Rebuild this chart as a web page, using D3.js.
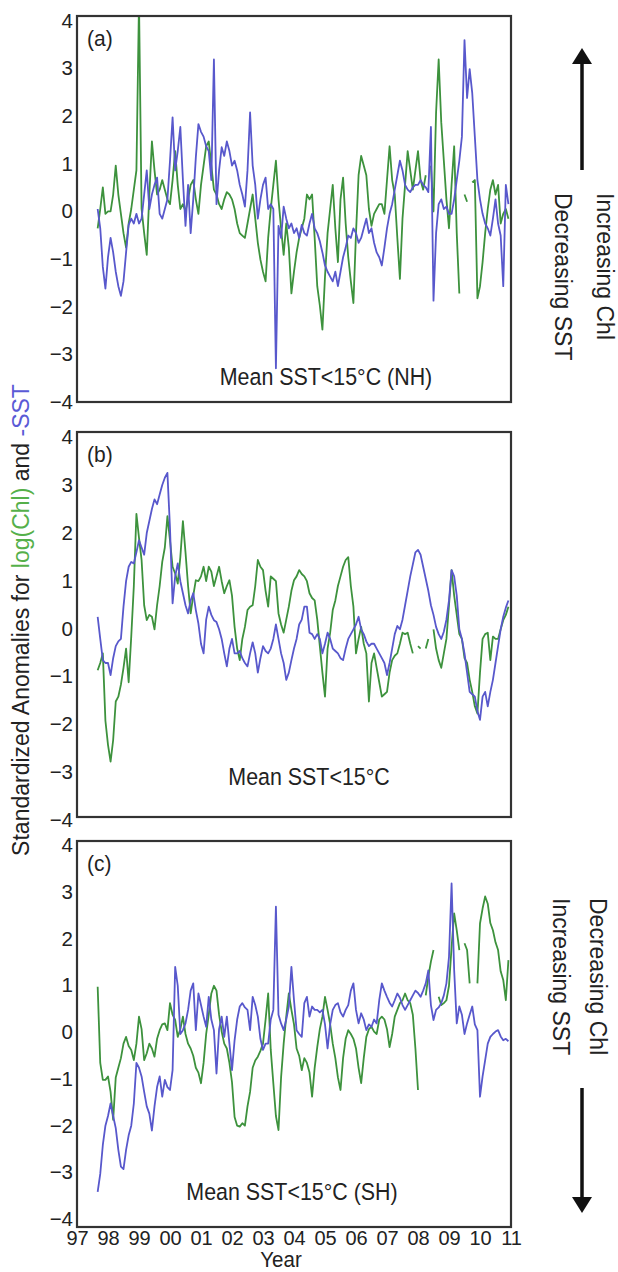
<!DOCTYPE html>
<html><head><meta charset="utf-8">
<script src="https://cdn.jsdelivr.net/npm/d3@7"></script>
<style>
body{margin:0;background:#fff}
text{font-family:"Liberation Sans",Arial,Helvetica,sans-serif;fill:#222}
</style>
</head><body><svg id="chart" width="618" height="1272"></svg>
<script>
// ---------------- DATA ----------------
const startYear = 1997, startMonth = 9; // first value: Sept 1997, monthly
const yearTicks = [1997,1998,1999,2000,2001,2002,2003,2004,2005,2006,2007,2008,2009,2010,2011];
const yearTickLabels = ["97","98","99","00","01","02","03","04","05","06","07","08","09","10","11"];
const yTicks = [-4,-3,-2,-1,0,1,2,3,4];
const panelLabels = ["(a)","(b)","(c)"];
const regionLabels = ["Mean SST<15°C (NH)","Mean SST<15°C","Mean SST<15°C (SH)"];

// -SST standardized anomalies (blue)
const sstA = [0.0,-0.4,-1.2,-1.65,-1.0,-0.6,-0.9,-1.3,-1.6,-1.8,
 -1.5,-0.9,-0.33,-0.2,-0.3,-0.1,-0.3,-0.2,0.3,0.8,
 0.0,0.3,0.5,0.65,-0.1,-0.2,0.0,0.2,1.0,1.9,
 0.8,1.2,1.7,0.6,-0.35,0.5,-0.5,0.2,1.07,1.76,
 1.6,1.5,1.3,1.2,0.6,3.1,0.1,0.8,1.28,1.1,
 1.4,1.2,0.9,1.0,0.8,0.5,0.3,0.05,0.8,2.0,
 0.9,0.5,-0.2,0.2,0.5,0.65,0.0,0.1,0.0,-3.3,
 -0.35,-0.6,0.05,-0.2,-0.4,-0.3,-0.5,-0.4,-0.6,-0.33,
 -0.5,-0.55,-0.3,-0.1,-0.4,-0.5,-0.67,-0.9,-1.17,-1.3,
 -1.4,-1.5,-1.3,-1.6,-1.3,-1.0,-0.8,-0.55,-0.6,-0.4,
 -0.5,-0.7,-0.6,-0.4,-0.2,-0.5,-0.4,-0.7,-0.9,-1.0,
 -1.17,-0.8,-0.4,-0.1,0.1,0.4,0.7,1.0,0.8,0.5,
 0.4,0.35,0.45,0.5,0.5,0.6,0.5,0.45,0.35,1.7,
 -1.9,-0.5,0.1,0.2,0.0,0.05,-0.1,-0.1,0.2,0.6,
 1.0,1.5,3.5,2.3,2.9,2.4,1.5,0.6,0.2,-0.1,
 -0.3,-0.4,-0.55,-0.2,0.2,-0.3,-0.55,-1.6,0.5,0.1];
const sstB = [0.16,-0.3,-0.74,-0.8,-0.8,-1.05,-0.7,-0.45,-0.35,-0.3,
 0.37,0.9,1.2,1.3,1.27,1.5,1.75,1.6,1.45,1.9,
 2.15,2.4,2.6,2.5,2.7,2.9,3.05,3.15,2.0,0.44,
 1.0,1.27,0.9,0.65,0.4,0.23,0.5,0.65,0.3,0.02,
 -0.4,-0.6,0.1,0.37,0.2,0.09,0.05,-0.1,-0.3,-0.6,
 -0.87,-0.5,-0.3,-0.6,-0.6,-0.55,-0.7,-0.8,-0.87,-0.6,
 -0.37,-0.6,-1.0,-0.7,-0.45,-0.55,-0.6,-0.5,-0.3,0.0,
 -0.3,-0.6,-0.8,-1.15,-1.0,-0.74,-0.5,-0.3,0.0,0.1,
 0.37,0.37,-0.17,-0.2,-0.3,-0.2,-0.3,-0.6,-0.4,-0.17,
 -0.3,-0.5,-0.55,-0.6,-0.7,-0.74,-0.5,-0.3,-0.2,-0.1,
 0.0,0.16,-0.1,-0.2,-0.35,-0.45,-0.4,-0.4,-0.5,-0.6,
 -0.7,-0.8,-1.05,-0.8,-0.5,-0.2,-0.03,-0.1,0.1,0.4,
 0.7,1.0,1.25,1.5,1.55,1.45,1.2,0.95,0.7,0.4,
 0.2,-0.05,-0.2,-0.3,-0.15,0.1,0.5,1.13,1.0,0.6,
 -0.1,-0.3,-0.6,-1.0,-1.4,-1.45,-1.5,-1.8,-1.98,-1.5,
 -1.4,-1.7,-1.4,-1.15,-0.8,-0.45,-0.1,0.16,0.35,0.5];
const sstC = [-3.27,-2.9,-2.3,-1.9,-1.7,-1.44,-1.7,-1.95,-2.4,-2.75,
 -2.8,-2.4,-2.1,-1.9,-1.44,-0.6,-0.7,-0.88,-1.2,-1.5,
 -1.65,-2.0,-1.5,-1.1,-0.88,-1.3,-0.95,-1.1,-1.16,-0.75,
 1.39,1.0,0.0,0.08,0.22,0.5,0.9,1.05,0.08,0.84,
 0.6,0.36,0.15,0.77,0.3,0.08,-0.82,0.1,0.36,-0.06,
 0.36,-0.2,-0.75,-0.13,0.3,0.57,0.64,0.55,0.5,0.08,
 0.77,0.6,0.36,-0.1,-0.33,-0.2,-0.2,0.3,0.5,2.64,
 0.4,0.22,0.08,0.3,0.57,1.39,0.7,0.08,0.0,-0.06,
 0.64,0.77,0.36,0.57,0.5,0.5,0.45,0.5,0.2,-0.3,
 0.2,0.5,0.6,0.64,0.45,0.36,0.5,0.6,0.9,1.05,
 0.5,0.22,0.43,0.3,0.08,0.2,0.15,0.3,0.22,0.7,
 1.05,0.9,0.77,0.65,0.57,0.7,0.84,0.75,0.6,0.5,
 0.6,0.7,0.8,0.9,0.85,0.77,0.9,1.05,1.32,0.6,
 0.29,0.5,0.55,0.64,0.8,1.05,1.6,3.12,1.32,0.22,
 0.57,0.4,0.0,0.22,0.4,0.57,0.2,0.08,-1.3,-0.88,
 -0.54,-0.2,-0.06,0.0,0.05,0.08,-0.05,-0.13,-0.1,-0.15];

// log(Chl) standardized anomalies (green); null = missing month
const chlA = [-0.4,0.0,0.45,-0.1,-0.05,-0.05,0.3,0.9,0.3,-0.1,
 -0.5,-0.8,-0.3,0.0,0.4,0.8,4.3,0.0,-0.5,-0.95,
 0.3,1.4,0.8,0.3,0.4,0.6,0.4,0.2,0.1,0.6,
 1.2,0.5,0.0,0.1,-0.05,0.2,0.5,0.6,0.2,-0.1,
 0.5,0.9,1.3,1.4,0.9,0.4,0.3,0.1,0.0,0.2,
 0.35,0.3,0.2,0.0,-0.3,-0.5,-0.55,-0.6,-0.3,0.0,
 0.3,-0.2,-0.7,-1.05,-1.3,-1.5,-0.6,0.0,0.5,1.0,
 0.2,-0.4,-0.95,-0.3,-0.8,-1.75,-1.3,-0.9,-0.6,-0.4,
 -0.2,0.3,0.2,0.3,-0.6,-1.6,-2.0,-2.5,-1.4,-0.5,
 0.0,0.5,-0.4,-1.1,0.2,0.65,-0.3,-1.0,-1.5,-1.95,
 -0.5,0.7,1.1,0.9,0.7,0.0,-0.35,-0.1,0.0,0.1,
 0.1,-0.1,0.6,1.3,0.6,0.3,-0.6,-1.45,-0.2,0.5,
 1.2,0.8,0.4,0.8,1.2,0.6,0.4,0.7,null,0.9,
 -0.05,2.0,3.1,1.8,1.0,0.2,-0.4,0.5,1.3,-0.5,
 -1.75,null,0.3,0.15,null,0.55,0.6,-1.85,-1.6,-1.1,
 -0.5,0.0,0.4,0.6,0.3,0.5,-0.3,-0.1,0.0,-0.2];
const chlB = [-0.95,-0.8,-0.6,-2.0,-2.5,-2.85,-2.4,-1.6,-1.5,-1.25,
 -0.9,-0.5,-1.2,-0.25,0.8,2.3,1.8,1.34,0.4,0.09,
 0.2,0.16,-0.1,0.4,0.8,1.3,1.6,2.25,1.75,1.2,
 1.06,0.85,1.4,2.15,1.5,0.8,0.23,0.6,0.92,0.9,
 1.0,1.2,0.9,1.2,1.1,0.8,1.0,1.2,0.9,0.65,
 0.8,0.92,0.6,-0.05,-0.5,-0.74,-0.3,-0.05,0.3,0.37,
 0.4,0.8,1.34,1.2,1.13,0.7,0.37,1.0,0.95,0.9,
 0.23,0.0,-0.17,0.1,0.37,0.7,0.92,1.0,1.13,1.05,
 1.0,0.9,0.65,0.55,0.5,0.1,-0.45,-1.0,-1.5,-0.5,
 -0.17,0.3,0.5,0.8,1.0,1.2,1.34,1.4,0.8,0.37,
 -0.6,-0.3,-0.05,-0.4,-0.6,-1.6,-0.8,-0.6,-0.9,-1.2,
 -1.5,-1.45,-1.4,-1.0,-0.74,-0.65,-0.6,-0.4,-0.17,-0.2,
 -0.17,-0.4,-0.6,null,-0.45,-0.5,null,-0.5,-0.3,null,
 -0.1,-0.5,-0.74,-0.9,-0.6,-0.3,0.4,1.13,0.6,0.2,
 -0.2,-0.3,-0.7,-0.8,-1.15,-1.4,-1.7,-1.85,-1.0,-0.3,
 -0.2,-0.17,-0.74,-0.25,-0.3,-0.3,-0.1,0.09,0.2,0.37];
const chlC = [0.98,-0.6,-0.95,-0.95,-0.88,-1.2,-1.78,-0.9,-0.7,-0.5,
 -0.2,-0.06,-0.25,-0.33,-0.54,-0.2,0.36,0.1,-0.54,-0.4,
 -0.2,-0.3,-0.47,-0.1,0.08,0.2,0.22,0.08,0.64,0.4,
 0.29,-0.06,0.1,0.36,0.0,-0.2,-0.3,-0.45,-0.7,-0.8,
 -1.02,-0.6,0.0,0.4,0.84,1.0,0.9,0.4,0.05,-0.2,
 -0.3,-0.6,-1.0,-1.72,-1.9,-1.92,-1.85,-1.9,-1.5,-1.2,
 -0.7,-0.55,-0.47,-0.35,-0.2,0.3,0.84,-0.33,-1.02,-1.7,
 -1.99,-0.9,-0.2,0.36,0.84,0.5,0.2,-0.3,-0.45,-0.75,
 -0.5,-0.6,-0.8,-1.3,-0.7,-0.27,0.1,0.36,0.77,0.5,
 0.2,-0.2,-0.5,-0.9,-1.16,-0.5,-0.1,0.08,0.0,-0.1,
 -0.3,-0.7,-1.02,-0.5,-0.06,0.1,0.15,0.05,0.0,0.3,
 0.36,0.3,0.1,-0.27,0.0,0.36,0.5,0.64,0.7,0.84,
 0.7,0.64,0.4,-0.3,-1.16,null,null,0.8,1.19,1.5,
 1.74,null,0.77,0.6,0.64,0.7,1.0,1.8,2.5,2.15,
 1.74,null,1.88,1.74,1.05,null,null,1.05,2.29,2.6,
 2.85,2.7,2.3,2.15,1.9,1.74,1.3,1.12,0.7,1.53];

// ---------------- LAYOUT / STYLE ----------------
const blue = "#5858cc", green = "#3d923d";
const left = 77, right = 511;
const panels = [
  {top: 16, bottom: 402, labelRange: [402, 20.5], sst: sstA, chl: chlA, label: panelLabels[0], region: regionLabels[0], regionX: 326, regionDy: -17},
  {top: 432, bottom: 817, labelRange: [820, 437], sst: sstB, chl: chlB, label: panelLabels[1], region: regionLabels[1], regionX: 309, regionDy: -32},
  {top: 841, bottom: 1227, labelRange: [1219, 845], sst: sstC, chl: chlC, label: panelLabels[2], region: regionLabels[2], regionX: 292, regionDy: -27}
];
const fontStack = '"Liberation Sans",Arial,sans-serif';
const vStretch = 1.08; // source figure is slightly stretched vertically

const svg = d3.select("#chart");
const x = d3.scaleLinear().domain([1997, 2011]).range([left, right]);
const monthToYear = i => startYear + (startMonth - 1 + i) / 12;

function hText(parent, tx, ty, str, size, anchor) {
  return parent.append("text")
    .attr("transform", `translate(${tx},${ty}) scale(1,${vStretch})`)
    .attr("text-anchor", anchor || "start")
    .attr("font-size", size).text(str);
}

panels.forEach((p, k) => {
  const y = d3.scaleLinear().domain([-4, 4]).range([p.bottom, p.top]);
  const yLab = d3.scaleLinear().domain([-4, 4]).range(p.labelRange);
  const g = svg.append("g");
  const clipId = "clip" + k;
  g.append("clipPath").attr("id", clipId).append("rect")
    .attr("x", left).attr("y", p.top).attr("width", right - left).attr("height", p.bottom - p.top);

  const line = d3.line()
    .defined(d => d != null)
    .x((d, i) => x(monthToYear(i)))
    .y(d => y(d));

  const lines = g.append("g").attr("clip-path", `url(#${clipId})`);
  lines.append("path").datum(p.chl).attr("d", line)
    .attr("fill", "none").attr("stroke", green).attr("stroke-width", 1.8).attr("stroke-linejoin", "round");
  lines.append("path").datum(p.sst).attr("d", line)
    .attr("fill", "none").attr("stroke", blue).attr("stroke-width", 1.8).attr("stroke-linejoin", "round");

  // frame
  g.append("rect").attr("x", left).attr("y", p.top).attr("width", right - left).attr("height", p.bottom - p.top)
    .attr("fill", "none").attr("stroke", "#333").attr("stroke-width", 2.2);

  // y axis labels
  const ax = g.append("g").attr("transform", `translate(${left},0)`)
    .call(d3.axisLeft(yLab).tickValues(yTicks).tickSize(0).tickPadding(4).tickFormat(d3.format("d")));
  ax.select(".domain").remove();
  ax.selectAll("text").attr("font-size", 20.5).attr("fill", "#222").style("font-family", fontStack);

  hText(g, 87, p.top + 30, p.label, 21);
  hText(g, p.regionX, p.bottom + p.regionDy, p.region, 21.4, "middle");

  if (k === 2) {
    const xa = g.append("g").attr("transform", `translate(0,${p.bottom})`)
      .call(d3.axisBottom(x).tickValues(yearTicks).tickSize(0).tickPadding(4)
        .tickFormat((d, i) => yearTickLabels[i]));
    xa.select(".domain").remove();
    xa.selectAll("text").attr("font-size", 20).attr("fill", "#222").style("font-family", fontStack);
  }
});

// x title
hText(svg, 281, 1267, "Year", 20.5, "middle");

// y title (multi-colour)
const yt = svg.append("text").attr("transform", "translate(29,620) rotate(-90)")
  .attr("text-anchor", "middle").attr("font-size", 23);
yt.append("tspan").text("Standardized Anomalies for ");
yt.append("tspan").style("fill", "#55b04a").text("log(Chl)");
yt.append("tspan").text(" and ");
yt.append("tspan").style("fill", "#5a5ad6").text("-SST");

// right-side annotations
const sideTexts = [
  {x: 597, y: 193, t: "Increasing Chl"},
  {x: 555, y: 193, t: "Decreasing SST"},
  {x: 590, y: 898, t: "Decreasing Chl"},
  {x: 553, y: 898, t: "Increasing SST"}
];
sideTexts.forEach(s => {
  svg.append("text").attr("transform", `translate(${s.x},${s.y}) rotate(90)`)
    .attr("font-size", 23).text(s.t);
});

// arrows
const arrows = [
  {x: 582, shaft: [170, 64], tip: 48},
  {x: 582, shaft: [1088, 1197], tip: 1213}
];
arrows.forEach(a => {
  svg.append("line").attr("x1", a.x).attr("x2", a.x).attr("y1", a.shaft[0]).attr("y2", a.shaft[1])
    .attr("stroke", "#111").attr("stroke-width", 3.5);
  const base = a.shaft[1];
  svg.append("path").attr("d", `M${a.x},${a.tip} L${a.x - 10},${base} L${a.x + 10},${base} Z`).attr("fill", "#111");
});
</script>
</body></html>
